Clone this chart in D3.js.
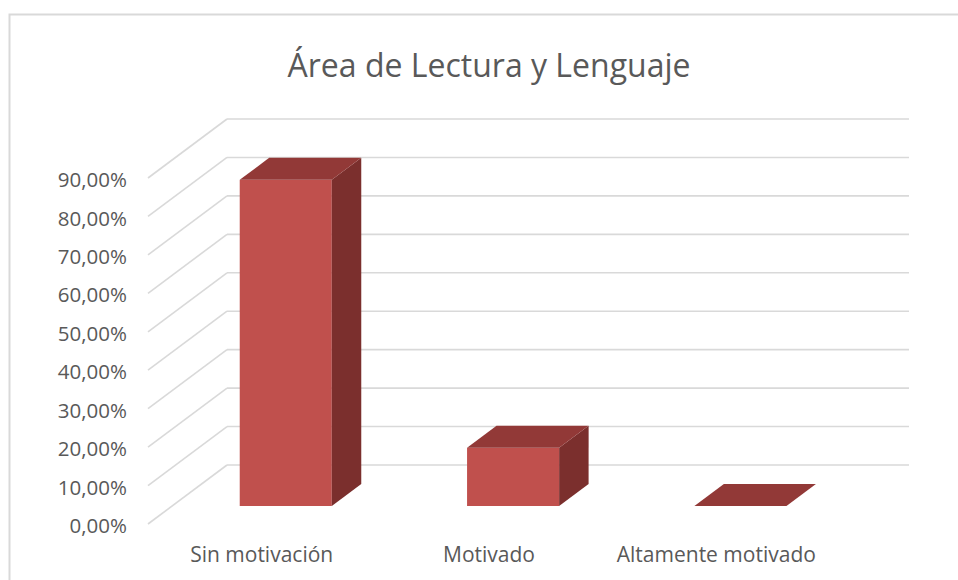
<!DOCTYPE html>
<html><head><meta charset="utf-8">
<script src="https://cdn.jsdelivr.net/npm/d3@7"></script>
<style>
body{margin:0;background:#fff}
svg{display:block}
text{font-family:"Open Sans",sans-serif;fill:#595959}
</style>
</head><body>
<svg id="c" width="958" height="580"></svg>
<script>
const chartTitle = "Área de Lectura y Lenguaje";
const categories = ["Sin motivación", "Motivado", "Altamente motivado"];
const values = [0.8485, 0.1515, 0];
const tickValues = [0, 0.1, 0.2, 0.3, 0.4, 0.5, 0.6, 0.7, 0.8, 0.9];
const tickLabels = ["0,00%", "10,00%", "20,00%", "30,00%", "40,00%", "50,00%", "60,00%", "70,00%", "80,00%", "90,00%"];

const svg = d3.select("#c");
const W = 958, H = 580;
const gridColor = "#D9D9D9";
const colFront = "#C0504D", colTop = "#923937", colSide = "#7B2F2D";

// frame
svg.append("path").attr("d", `M9.5,${H} L9.5,14.5 L${W},14.5`)
  .attr("fill", "none").attr("stroke", gridColor).attr("stroke-width", 2);

// oblique projection: front plane + depth vector
const fx0 = 148, fx1 = 830;
const depth = { dx: 79, dy: -59 };
const y = d3.scaleLinear().domain([0, 0.9]).range([524, 178]);
const x = d3.scaleBand().domain(categories).range([fx0, fx1]).paddingInner(0).paddingOuter(0);
const P = (px, v, d) => [px + d * depth.dx, y(v) + d * depth.dy];
const poly = pts => "M" + pts.map(p => p.join(",")).join("L") + "Z";

// gridlines
const grid = svg.append("g").attr("stroke", gridColor).attr("stroke-width", 1.6).attr("fill", "none");
tickValues.forEach(t => {
  const a = P(fx0, t, 1), b = P(fx1, t, 1), c = P(fx0, t, 0);
  grid.append("path").attr("d", `M${a}L${b}`);
  grid.append("path").attr("d", `M${c}L${a}`);
});

// bars
const dF = 0.305, dB = 0.678;
const bw = x.bandwidth() * 0.405;
const bars = svg.append("g");
categories.forEach((c, i) => {
  const v = values[i];
  const cx = x(c) + x.bandwidth() / 2;
  const xl = cx - bw / 2, xr = cx + bw / 2;
  const g = bars.append("g");
  if (v > 0) {
    g.append("path").attr("d", poly([P(xl, 0, dF), P(xr, 0, dF), P(xr, v, dF), P(xl, v, dF)])).attr("fill", colFront);
    g.append("path").attr("d", poly([P(xr, 0, dF), P(xr, 0, dB), P(xr, v, dB), P(xr, v, dF)])).attr("fill", colSide);
  }
  g.append("path").attr("d", poly([P(xl, v, dF), P(xr, v, dF), P(xr, v, dB), P(xl, v, dB)])).attr("fill", colTop);
});

// value axis labels
const yAxis = d3.axisLeft(y).tickValues(tickValues)
  .tickFormat((d, i) => tickLabels[i]).tickSize(0).tickPadding(0);
const ya = svg.append("g").attr("transform", "translate(127,2)").call(yAxis);
ya.select(".domain").remove();
ya.selectAll("text").attr("fill", "#595959").style("font-size", "20.5px").style("font-family", '"Open Sans",sans-serif');

// category axis labels
const xAxis = d3.axisBottom(x).tickSize(0).tickPadding(0);
const xa = svg.append("g").attr("transform", "translate(0,562)").call(xAxis);
xa.select(".domain").remove();
xa.selectAll("text").attr("dy", 0).attr("y", 0).attr("fill", "#595959")
  .style("font-size", "21px").style("font-family", '"Open Sans",sans-serif');

// title
svg.append("text").attr("x", 489).attr("y", 77).attr("text-anchor", "middle")
  .style("font-size", "32px").text(chartTitle);
</script>
</body></html>
